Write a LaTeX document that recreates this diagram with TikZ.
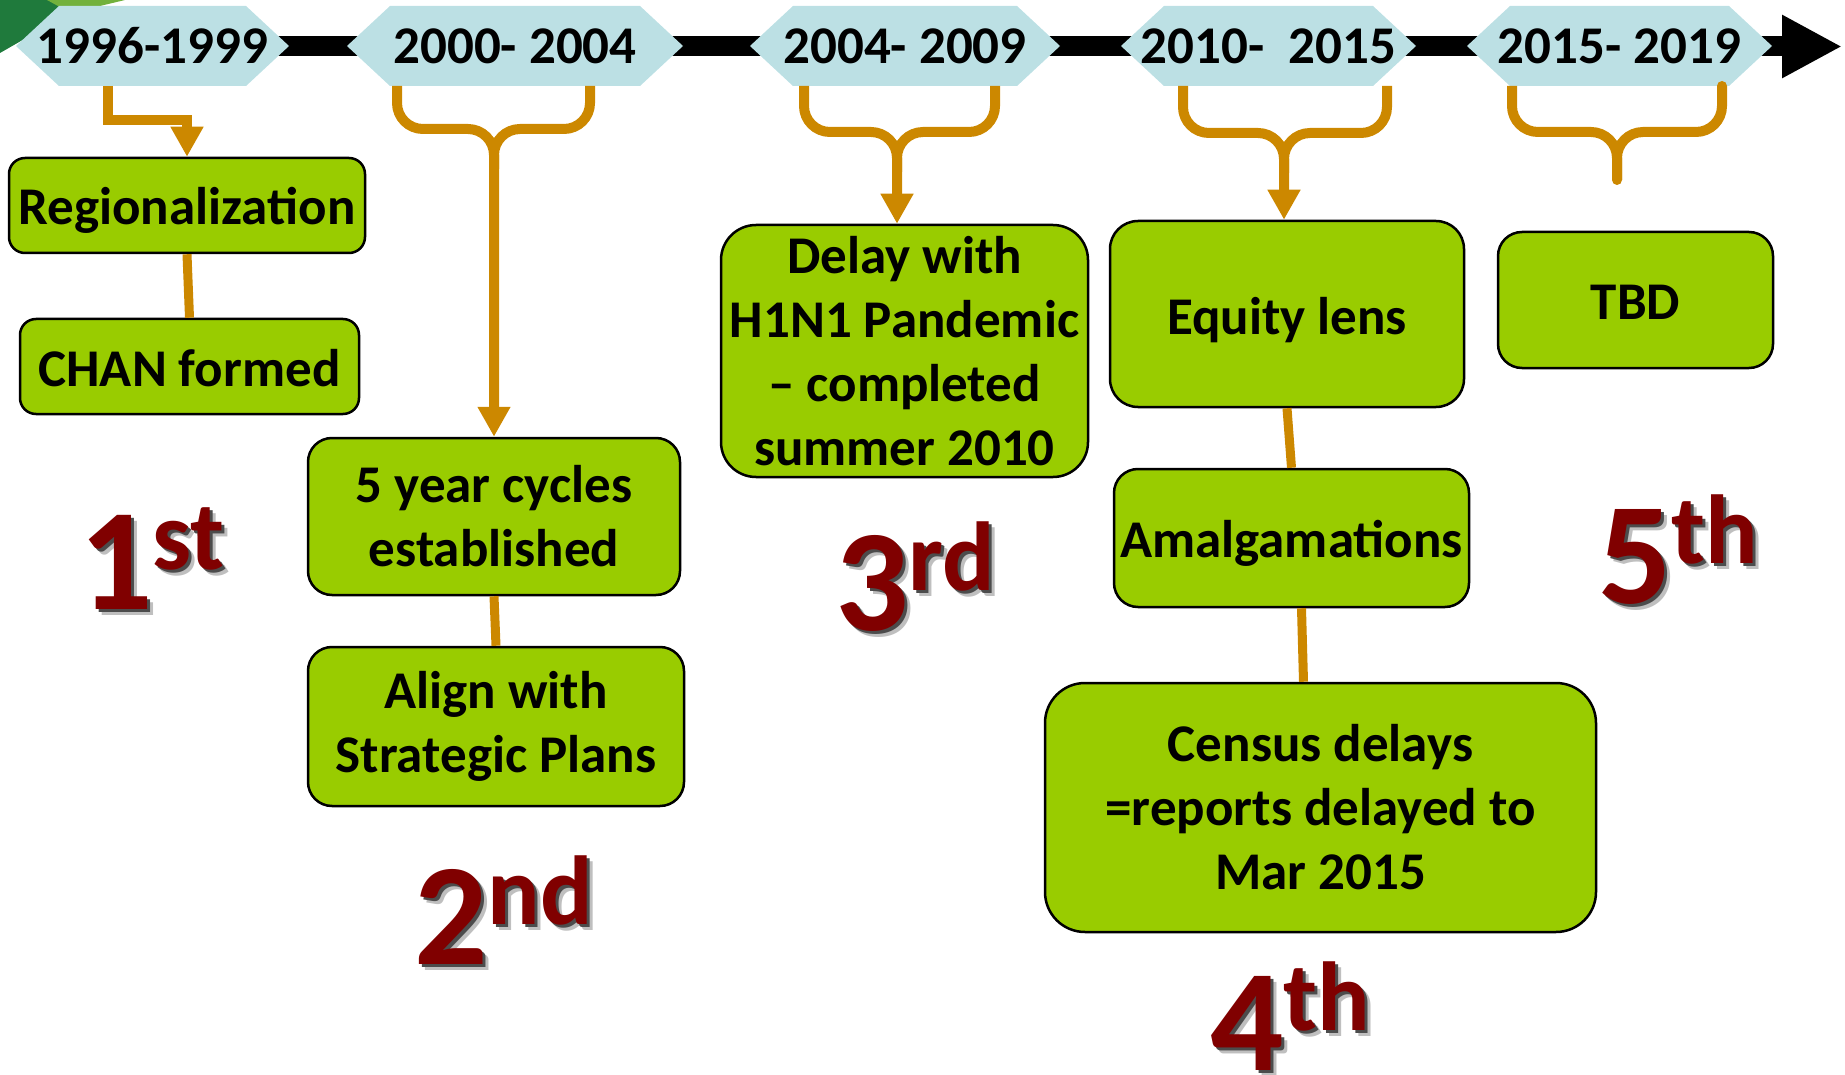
\documentclass[tikz,border=0pt]{standalone}
\usepackage{fontspec}
\setmainfont{Carlito}
\usetikzlibrary{arrows.meta}

\definecolor{boxgreen}{HTML}{99CC00}
\definecolor{hexblue}{HTML}{BCE0E4}
\definecolor{braceorange}{HTML}{CC8800}
\definecolor{ordred}{HTML}{800000}
\definecolor{leafdark}{HTML}{1F7A3C}
\definecolor{leaflight}{HTML}{72B13C}

% ordinal with raised suffix and a soft shadow
\newcommand\ordtext[2]{#1\raisebox{40pt}{\fontsize{98}{98}\selectfont #2}}
\newcommand\ordmark[2]{%
  \rlap{\kern6pt\raisebox{-6pt}{\color{black!25}\ordtext{#1}{#2}}}%
  \rlap{\kern3pt\raisebox{-3pt}{\color{black!70}\ordtext{#1}{#2}}}%
  \ordtext{#1}{#2}}
% move a line down without changing its box
\newcommand\sinktext[2]{\raisebox{-#1}[\height][\depth]{#2}}

\tikzset{
  period/.style={inner sep=0pt, minimum height=80pt,
    font=\fontsize{53}{60}\selectfont\bfseries,
    path picture={\fill[hexblue]
      ([xshift=43pt]path picture bounding box.north west) --
      ([xshift=-43pt]path picture bounding box.north east) --
      (path picture bounding box.east) --
      ([xshift=-43pt]path picture bounding box.south east) --
      ([xshift=43pt]path picture bounding box.south west) --
      (path picture bounding box.west) -- cycle;}},
  event/.style={draw=black, line width=2.5pt, fill=boxgreen,
    rounded corners=24pt, inner sep=0pt, align=center,
    font=\fontsize{53}{64}\selectfont\bfseries},
  timeline/.style={line width=20pt, -{Triangle[width=59pt,length=60pt]}},
  bracket/.style={draw=braceorange, line width=10pt, rounded corners=26pt},
  tip/.style={-{Triangle[width=31pt,length=30pt]}},
  link/.style={draw=braceorange, line width=9pt},
  ordinal/.style={anchor=base west, inner sep=0pt, text=ordred,
    font=\fontsize{145}{145}\selectfont\bfseries},
}

\begin{document}
\begin{tikzpicture}[x=1pt, y=-1pt]
  \useasboundingbox (0,0) rectangle (1845,1075);

  % leaf in the corner
  \fill[leafdark] (0,0) -- (70,0) -- (40,30) -- (0,53) -- cycle;
  \fill[leaflight] (47,0) -- (125,0) -- (100,6) -- (58,6) -- cycle;

  % time line
  \coordinate (tlstart) at (150,46.5);
  \coordinate (tlend) at (1842,46.5);
  \draw[timeline] (tlstart) -- (tlend);

  \node[period, minimum width=273pt] (y1) at (152.5,46) {1996-1999};
  \node[period, minimum width=336pt] (y2) at (515,46) {2000- 2004};
  \node[period, minimum width=310pt] (y3) at (905,46) {2004- 2009};
  \node[period, minimum width=295pt] (y4) at (1268.5,46) {2010-\ \ 2015};
  \node[period, minimum width=305pt] (y5) at (1619.5,46) {2015- 2019};

  % events
  \node[event, minimum width=356pt, minimum height=95pt, rounded corners=16pt] (reg) at (187,205.5) {\sinktext{5pt}{Regionalization}};
  \node[event, minimum width=339pt, minimum height=95pt, rounded corners=16pt] (chan) at (189.5,366.5) {\sinktext{2pt}{CHAN formed}};
  \node[event, minimum width=372pt, minimum height=157pt] (cycles) at (494,516.5) {5 year cycles\\established};
  \node[event, minimum width=376pt, minimum height=159pt] (align) at (496,726.5) {Align with\\Strategic Plans};
  \node[event, minimum width=367pt, minimum height=252pt, rounded corners=35pt] (delay) at (904.5,351) {Delay with\\H1N1 Pandemic\\\textendash{} completed\\summer 2010};
  \node[event, minimum width=354pt, minimum height=186pt, rounded corners=28pt] (equity) at (1287,314) {\sinktext{6pt}{Equity lens}};
  \node[event, minimum width=355pt, minimum height=138pt] (amalg) at (1291.5,538) {\sinktext{5pt}{Amalgamations}};
  \node[event, minimum width=551pt, minimum height=249pt, rounded corners=40pt] (census) at (1320.5,807.5) {Census delays\\=reports delayed to\\Mar 2015};
  \node[event, minimum width=275pt, minimum height=136pt] (tbd) at (1635.5,300) {\sinktext{2pt}{TBD}};

  % braces under the periods
  \coordinate (b1) at (108,86);
  \draw[bracket, sharp corners, tip] (b1) -- ++(0,34) -| (reg.north);

  \coordinate (b2l) at (397,86);
  \coordinate (b2r) at (590,86);
  \coordinate (b2) at (494,129);
  \draw[bracket, tip] (b2l) |- (b2) -- (cycles.north);
  \draw[bracket] (b2r) |- (b2) -- ++(0,40);

  \coordinate (b3l) at (804,86);
  \coordinate (b3r) at (995,86);
  \coordinate (b3) at (897,132);
  \draw[bracket, tip] (b3l) |- (b3) -- (b3 |- delay.north);
  \draw[bracket] (b3r) |- (b3) -- ++(0,40);

  \coordinate (b4l) at (1183,86);
  \coordinate (b4r) at (1387,86);
  \coordinate (b4) at (1284,133);
  \draw[bracket, tip] (b4l) |- (b4) -- (b4 |- equity.north);
  \draw[bracket] (b4r) |- (b4) -- ++(0,40);

  \coordinate (b5l) at (1512,86);
  \coordinate (b5r) at (1722,86);
  \coordinate (b5) at (1617,132);
  \coordinate (b5end) at (1617,180);
  \draw[bracket] (b5l) |- (b5) -- (b5end);
  \draw[bracket, line cap=round] (b5r) |- (b5) -- (b5end);

  % links between stacked events
  \draw[link] (reg.south) -- (chan.north);
  \draw[link] (cycles.south) -- (align.north);
  \draw[link] (equity.south) -- (amalg.north);
  \draw[link] ([xshift=10pt]amalg.south) -- ([xshift=-17pt]census.north);

  % rounds
  \node[ordinal] (ord1) at (79,609) {\ordmark{1}{st}};
  \node[ordinal] (ord2) at (414,964) {\ordmark{2}{nd}};
  \node[ordinal] (ord3) at (835,630) {\ordmark{3}{rd}};
  \node[ordinal] (ord4) at (1210,1070) {\ordmark{4}{th}};
  \node[ordinal] (ord5) at (1598,603) {\ordmark{5}{th}};
\end{tikzpicture}
\end{document}
